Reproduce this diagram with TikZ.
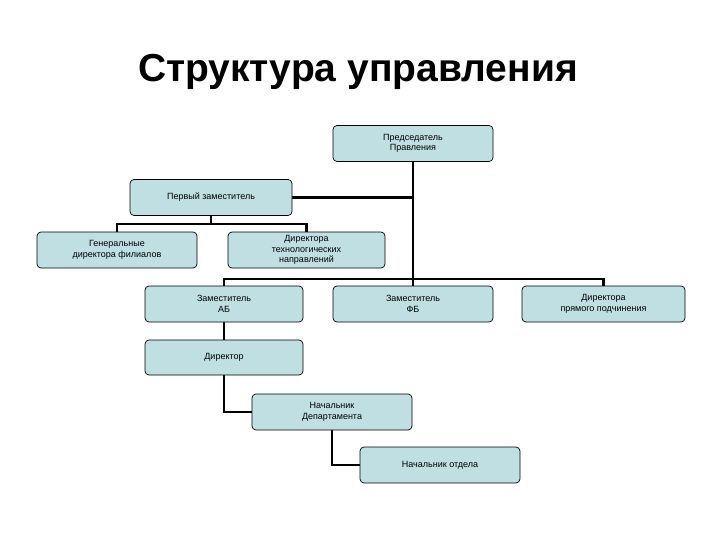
\documentclass[tikz,border=0pt]{standalone}
\usepackage{fontspec}
\setmainfont{Liberation Sans}
\begin{document}
\begin{tikzpicture}[x=1pt,y=-1pt,
  bx/.style={draw=black,fill=boxc,rounded corners=4pt,line width=0.7pt,minimum height=36pt,align=center,font=\fontsize{9}{10.5}\selectfont,inner sep=1pt},
  ln/.style={line width=2.6pt}]
\definecolor{boxc}{HTML}{BFDFE2}
\useasboundingbox (0,0) rectangle (720,540);
\node[font=\bfseries\fontsize{39}{44}\selectfont] (title) at (358,72) {Структура управления};
\draw[ln] (413,161) -- (413,286);
\draw[ln] (292,197.5) -- (413,197.5);
\draw[ln] (224,286) |- (413,279) -| (603.5,286);
\draw[ln] (211,215) -- (211,224);
\draw[ln] (117,232) |- (211,224) -| (306.5,232);
\draw[ln] (224,322) -- (224,340);
\draw[ln] (224,375) |- (252,412);
\draw[ln] (332,430) |- (360,465);
\node[bx,minimum width=160pt] (pred) at (413,143.5) {Председатель\\Правления};
\node[bx,minimum width=162pt] (perv) at (211,197.5) {Первый заместитель};
\node[bx,minimum width=160pt] (gen) at (117,250) {Генеральные\\директора филиалов};
\node[bx,minimum width=157pt] (tech) at (306.5,250) {Директора\\технологических\\направлений};
\node[bx,minimum width=158pt] (zab) at (224,304) {Заместитель\\АБ};
\node[bx,minimum width=160pt] (zfb) at (413,304) {Заместитель\\ФБ};
\node[bx,minimum width=163pt] (dpr) at (603.5,304) {Директора\\прямого подчинения};
\node[bx,minimum width=158pt,minimum height=35pt] (dir) at (224,357.5) {Директор};
\node[bx,minimum width=160pt] (ndep) at (332,412) {Начальник\\Департамента};
\node[bx,minimum width=160pt] (notd) at (440,465) {Начальник отдела};
\end{tikzpicture}
\end{document}
